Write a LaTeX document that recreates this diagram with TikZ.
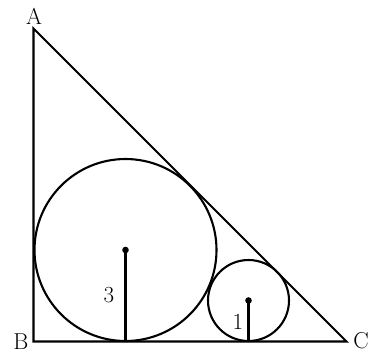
\documentclass[tikz,border=0pt]{standalone}
\usepackage{fontspec}
\begin{document}
\begin{tikzpicture}[x=1pt,y=-1pt,line width=2.1pt,
  lbl/.style={font=\fontsize{23}{27}\selectfont,inner sep=0pt}]
 \useasboundingbox (0,0) rectangle (371,354);
 \coordinate (A) at (33.5,28.5);
 \coordinate (B) at (33.5,341.5);
 \coordinate (C) at (346.5,341.5);
 \coordinate (O3) at (125.5,250);
 \coordinate (O1) at (248.5,300.5);
 \draw (A)--(B)--(C)--cycle;
 \draw (O3) circle[radius=91];
 \draw (O1) circle[radius=40.5];
 \fill (O3) circle[radius=3.3];
 \fill (O1) circle[radius=3.3];
 \draw[line width=2.7pt] (O3)--(O3 |- B);
 \draw[line width=2.7pt] (O1)--(O1 |- B);
 \node[lbl] (a) at (34,16) {A};
 \node[lbl] (b) at (21,341.5) {B};
 \node[lbl] (c) at (361,341) {C};
 \node[lbl] (r3) at (109,295) {3};
 \node[lbl] (r1) at (238,322) {1};
\end{tikzpicture}
\end{document}
